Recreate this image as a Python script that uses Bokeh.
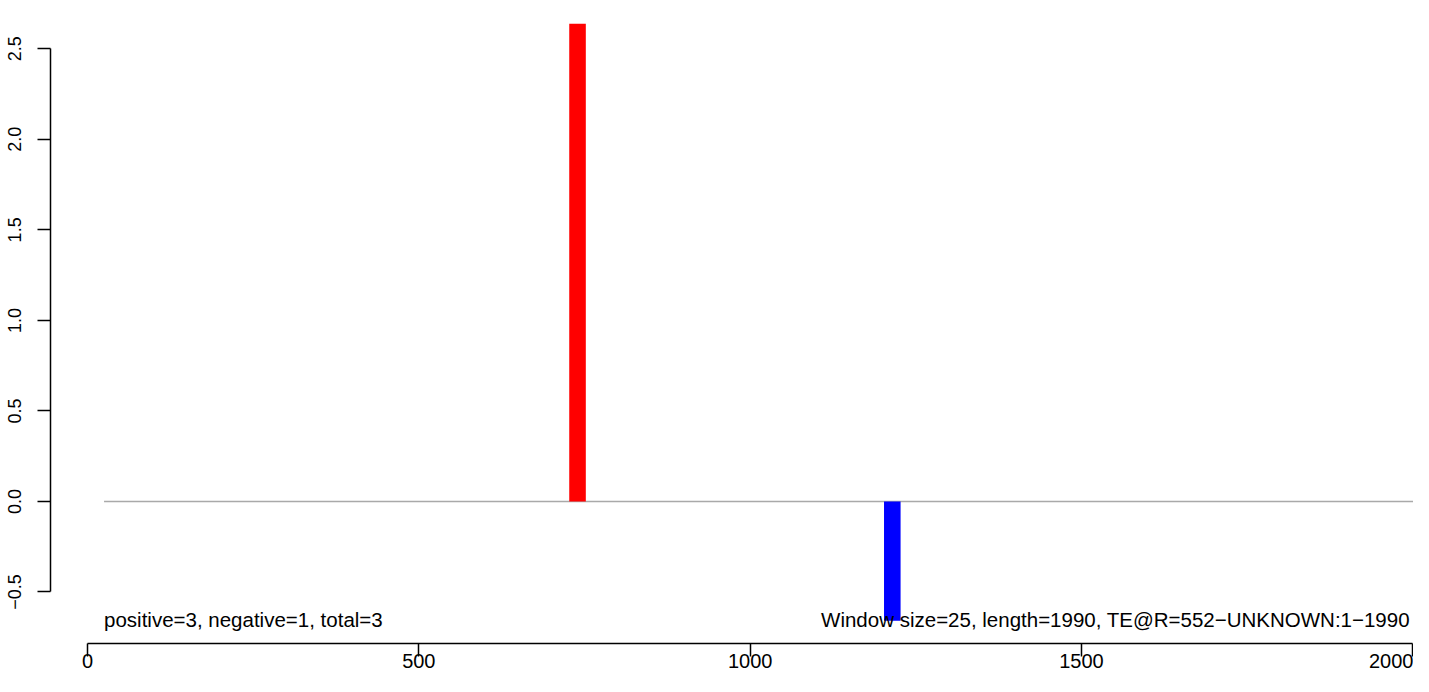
from bokeh.plotting import figure
from bokeh.models import Range1d, FixedTicker, Label, CustomJSTickFormatter
from bokeh.embed import file_html
from bokeh.resources import INLINE

# ---- data ----
window_size = 25
bar_starts = [727, 1202]
bar_values = [2.64, -0.66]
bar_colors = ["#FF0000", "#0000FF"]
baseline_x = [25, 2025]
baseline_y = [0, 0]
x_ticks = [0, 500, 1000, 1500, 2000]
y_ticks = [-0.5, 0.0, 0.5, 1.0, 1.5, 2.0, 2.5]
left_note = "positive=3, negative=1, total=3"
right_note = "Window size=25, length=1990, TE@R=552\u2212UNKNOWN:1\u22121990"
left_note_x = 25
right_note_x = 1107
note_y = -0.653

FONT = "Liberation Sans"

p = figure(width=1413, height=676, output_backend="svg", toolbar_location=None,
           x_range=Range1d(-55.8, 2001), y_range=Range1d(-0.785, 2.64),
           min_border_left=50, min_border_right=0, min_border_top=23,
           min_border_bottom=33)
p.outline_line_color = None
p.xgrid.visible = False
p.ygrid.visible = False
p.background_fill_color = "white"
p.border_fill_color = "white"

# baseline
p.line(baseline_x, baseline_y, line_color="#A9A9A9", line_width=1.5)

# bars
p.quad(left=bar_starts, right=[s + window_size for s in bar_starts],
       bottom=[0] * len(bar_values), top=bar_values,
       fill_color=bar_colors, line_color=None)

# axes
for ax in (p.xaxis[0], p.yaxis[0]):
    ax.axis_line_color = "black"
    ax.axis_line_width = 1.5
    ax.major_tick_line_color = "black"
    ax.major_tick_line_width = 1.5
    ax.major_tick_in = 0
    ax.major_tick_out = 13
    ax.minor_tick_line_color = None
    ax.major_label_text_font = FONT
    ax.major_label_text_color = "black"

p.xaxis.ticker = FixedTicker(ticks=x_ticks)
p.xaxis.bounds = (x_ticks[0], x_ticks[-1])
p.xaxis.major_label_text_font_size = "20px"
p.xaxis.major_label_standoff = -3

p.yaxis.ticker = FixedTicker(ticks=y_ticks)
p.yaxis.bounds = (y_ticks[0], y_ticks[-1])
p.yaxis.major_label_text_font_size = "18px"
p.yaxis.major_label_orientation = "vertical"
p.yaxis.major_label_standoff = 16
p.yaxis.formatter = CustomJSTickFormatter(
    code="return tick.toFixed(1).replace('-', '\\u2212');")

# notes
p.add_layout(Label(x=left_note_x, y=note_y, text=left_note, text_font=FONT,
                   text_font_size="20.5px", text_color="black",
                   text_align="left", text_baseline="alphabetic"))
p.add_layout(Label(x=right_note_x, y=note_y, text=right_note, text_font=FONT,
                   text_font_size="20.5px", text_color="black",
                   text_align="left", text_baseline="alphabetic"))

open("out.html", "w").write(file_html(p, INLINE))
